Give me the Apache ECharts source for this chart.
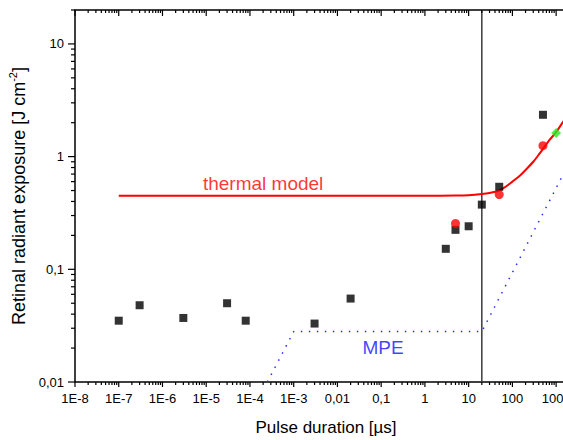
<!DOCTYPE html>
<html>
<head>
<meta charset="UTF-8">
<script src="https://cdn.jsdelivr.net/npm/echarts@6/dist/echarts.min.js"></script>
<style>
  html, body { margin: 0; padding: 0; background: #fff; }
  #chart { width: 563px; height: 440px; }
</style>
</head>
<body>
<div id="chart"></div>
<script>
// Werte: x = Pulsdauer [µs], y = J/cm²
const measured = [
  [1e-7, 0.035], [3e-7, 0.048], [3e-6, 0.037], [3e-5, 0.050], [8e-5, 0.035],
  [3e-3, 0.033], [0.02, 0.055], [3, 0.152], [5, 0.224], [10, 0.241],
  [20, 0.375], [50, 0.54], [500, 2.35]
];
const thermalPoints = [[5, 0.255], [50, 0.46], [500, 1.25]];
const greenPoint = [[1000, 1.62]];
const thermalModel = [
  [1e-7, 0.45], [1, 0.45], [5, 0.452], [10, 0.455], [20, 0.465], [30, 0.475],
  [50, 0.50], [70, 0.54], [100, 0.60], [150, 0.68], [200, 0.76], [300, 0.90],
  [400, 1.04], [500, 1.17], [700, 1.40], [1000, 1.65], [1500, 2.08],
  [2000, 2.4], [3000, 2.95]
];
const mpe = [[2.5e-4, 0.01], [1e-3, 0.028], [20, 0.028], [3000, 1.2]];
const cutoff = [[20, 0.01], [20, 20]];

const xTickExp = [-8, -7, -6, -5, -4, -3, -2, -1, 0, 1, 2, 3];
const xTickLabels = ['1E-8', '1E-7', '1E-6', '1E-5', '1E-4', '1E-3', '0,01', '0,1', '1', '10', '100', '1000'];
const yTickExp = [-2, -1, 0, 1];
const yTickLabels = ['0,01', '0,1', '1', '10'];

const xMin = 1e-8, xMax = 3000, yMin = 0.01, yMax = 20;

function labelFor(exps, labels) {
  return function (v) {
    const e = Math.log10(v);
    const r = Math.round(e);
    if (Math.abs(e - r) > 1e-6) return '';
    const i = exps.indexOf(r);
    return i < 0 ? '' : labels[i];
  };
}

// Haupt- und Nebenstriche der log-Achsen
const tickList = [];
xTickExp.forEach(function (e) {
  for (let k = 1; k <= 9; k++) {
    const v = k * Math.pow(10, e);
    if (v > xMax) break;
    tickList.push({ x: v, y: yMin, side: 0, major: k === 1 });
    tickList.push({ x: v, y: yMax, side: 1, major: k === 1 });
  }
});
yTickExp.forEach(function (e) {
  for (let k = 1; k <= 9; k++) {
    const v = k * Math.pow(10, e);
    if (v > yMax) break;
    tickList.push({ x: xMin, y: v, side: 2, major: k === 1 });
  }
});

const font = 'Liberation Sans';
const chart = echarts.init(document.getElementById('chart'), null, { renderer: 'svg' });
chart.setOption({
  animation: false,
  grid: {
    left: 75, top: 10, right: -14, bottom: 58,
    outerBoundsMode: 'none',
    show: true, borderColor: '#000', borderWidth: 1.5
  },
  xAxis: {
    type: 'log', min: xMin, max: xMax, interval: 1,
    name: 'Pulse duration [µs]', nameLocation: 'middle', nameGap: 37,
    nameTextStyle: { fontSize: 17, color: '#000', fontFamily: font },
    axisLine: { show: false }, axisTick: { show: false }, splitLine: { show: false },
    axisLabel: {
      fontSize: 13, color: '#000', margin: 10, fontFamily: font,
      formatter: labelFor(xTickExp, xTickLabels)
    }
  },
  yAxis: {
    type: 'log', min: yMin, max: yMax, interval: 1,
    name: 'Retinal radiant exposure [J cm{sup|-2}]', nameLocation: 'middle', nameGap: 42,
    nameTextStyle: {
      fontSize: 18, color: '#000', fontFamily: font,
      rich: { sup: { fontSize: 11, color: '#000', fontFamily: font, padding: [0, 0, 12, 0] } }
    },
    axisLine: { show: false }, axisTick: { show: false }, splitLine: { show: false },
    axisLabel: {
      fontSize: 13, color: '#000', margin: 11, fontFamily: font,
      formatter: labelFor(yTickExp, yTickLabels)
    }
  },
  series: [
    {
      type: 'line', data: cutoff, symbol: 'none', silent: true,
      lineStyle: { color: '#3a3a3a', width: 1.5 }
    },
    {
      type: 'line', data: mpe, symbol: 'none', silent: true,
      lineStyle: { color: '#2a2aff', width: 1.5, type: [1.5, 6.5] }
    },
    {
      type: 'line', data: thermalModel, symbol: 'none', silent: true, smooth: 0.3,
      lineStyle: { color: '#ff0000', width: 2 }
    },
    {
      type: 'scatter', data: measured, symbol: 'rect', symbolSize: 8, z: 3,
      itemStyle: { color: '#000' }
    },
    {
      type: 'scatter', data: thermalPoints, symbol: 'circle', symbolSize: 9, z: 4,
      itemStyle: { color: '#ff0000' }
    },
    {
      type: 'scatter', data: greenPoint, symbol: 'rect', symbolSize: 7, symbolRotate: 45, z: 5,
      itemStyle: { color: '#22ee22' }
    },
    {
      type: 'scatter', symbolSize: 1, silent: true,
      itemStyle: { color: 'rgba(0,0,0,0)' },
      label: { show: true, position: 'inside', formatter: '{b}', fontSize: 19, fontFamily: font },
      data: [
        { name: 'thermal model', value: [2e-4, 0.58], label: { color: '#ff0000' } },
        { name: 'MPE', value: [0.11, 0.0204], label: { color: '#1010ff' } }
      ]
    }
  ]
});

// Striche als schmale gefüllte Rechtecke, Lage über die Achsenskalen der Bibliothek
const tickGraphics = [];
tickList.forEach(function (t) {
  const p = chart.convertToPixel({ gridIndex: 0 }, [t.x, t.y]);
  let shape;
  if (t.side === 0) shape = { x: p[0] - 0.6, y: p[1], width: 1.2, height: t.major ? 5 : 3 };
  else if (t.side === 1) shape = { x: p[0] - 0.6, y: p[1], width: 1.2, height: t.major ? 6 : 3 };
  else {
    const len = t.major ? 7 : 4;
    shape = { x: p[0] - len, y: p[1] - 0.6, width: len, height: 1.2 };
  }
  tickGraphics.push({ type: 'rect', z: 100, silent: true, shape: shape, style: { fill: '#000' } });
});
chart.setOption({ graphic: tickGraphics });
</script>
</body>
</html>
